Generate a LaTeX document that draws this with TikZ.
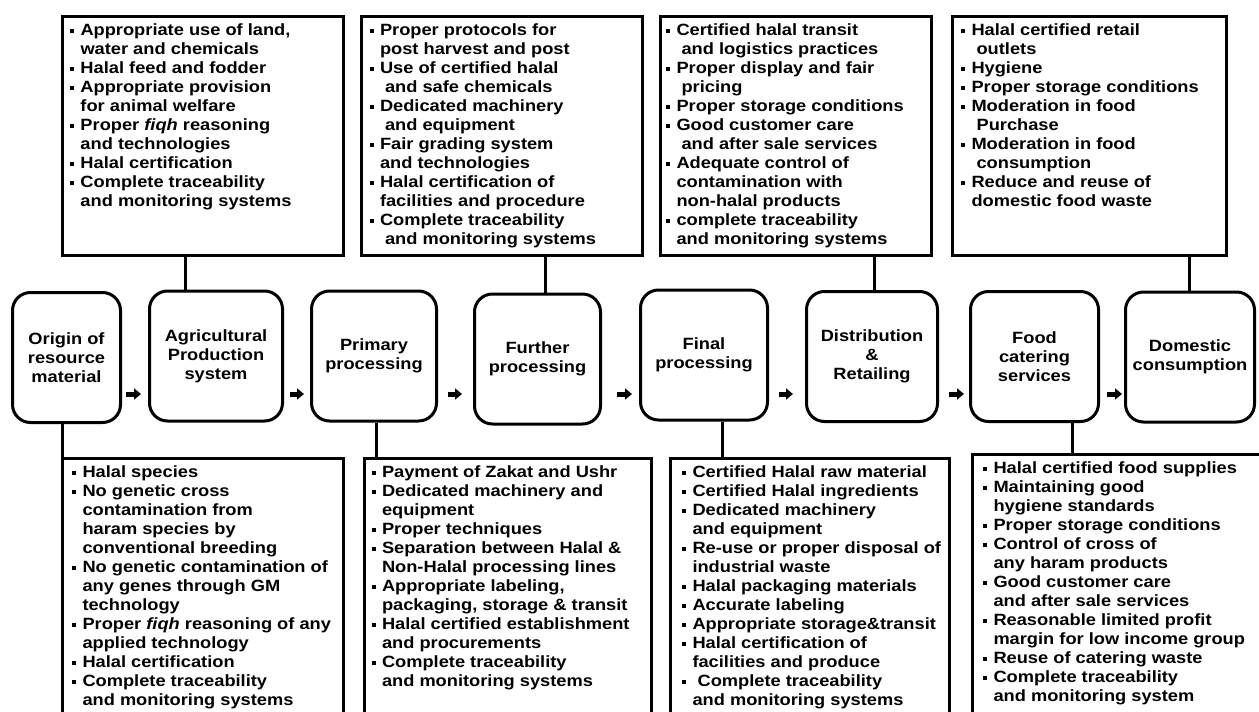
\documentclass[tikz,border=0pt]{standalone}
\usepackage{fontspec}
\setmainfont{Liberation Sans}[FakeStretch=1.12]
\usetikzlibrary{arrows.meta}

\newcommand{\itm}{\makebox[10.5pt][l]{\rule[3pt]{4pt}{4pt}}}
\newcommand{\ind}{\hspace*{10.5pt}}

\tikzset{
  stage/.style={draw, line width=3pt, rounded corners=18pt, inner sep=0pt, align=center, minimum height=130pt},
  notebox/.style={draw, line width=3pt, anchor=north west, inner ysep=6pt},
  link/.style={line width=3pt},
  flow/.style={line width=5pt, -{Triangle[length=7pt,width=11pt]}}
}

\begin{document}
\begin{tikzpicture}[x=1pt, y=-1pt, font=\fontsize{16.3pt}{19pt}\selectfont\bfseries]

\clip (0,0) rectangle (1259,712);

\node[notebox, inner xsep=7.5pt] (t1) at (61,15) {\parbox[c][227pt][t]{266pt}{\begin{tabular}{@{}l@{}}
\itm Appropriate use of land,\\
\ind water and chemicals\\
\itm Halal feed and fodder\\
\itm Appropriate provision\\
\ind for animal welfare\\
\itm Proper {\itshape fiqh} reasoning\\
\ind and technologies\\
\itm Halal certification\\
\itm Complete traceability\\
\ind and monitoring systems
\end{tabular}}};
\node[notebox, inner xsep=8pt] (t2) at (360,15) {\parbox[c][227pt][t]{265pt}{\begin{tabular}{@{}l@{}}
\itm Proper protocols for\\
\ind post harvest and post\\
\itm Use of certified halal\\
\ind\ and safe chemicals\\
\itm Dedicated machinery\\
\ind\ and equipment\\
\itm Fair grading system\\
\ind and technologies\\
\itm Halal certification of\\
\ind facilities and procedure\\
\itm Complete traceability\\
\ind\ and monitoring systems
\end{tabular}}};
\node[notebox, inner xsep=5.5pt] (t3) at (659,15) {\parbox[c][227pt][t]{260pt}{\begin{tabular}{@{}l@{}}
\itm Certified halal transit\\
\ind\ and logistics practices\\
\itm Proper display and fair\\
\ind\ pricing\\
\itm Proper storage conditions\\
\itm Good customer care\\
\ind\ and after sale services\\
\itm Adequate control of\\
\ind contamination with\\
\ind non-halal products\\
\itm complete traceability\\
\ind and monitoring systems
\end{tabular}}};
\node[notebox, inner xsep=8.5pt] (t4) at (951,15) {\parbox[c][227pt][t]{257pt}{\begin{tabular}{@{}l@{}}
\itm Halal certified retail\\
\ind\ outlets\\
\itm Hygiene\\
\itm Proper storage conditions\\
\itm Moderation in food\\
\ind\ Purchase\\
\itm Moderation in food\\
\ind\ consumption\\
\itm Reduce and reuse of\\
\ind domestic food waste
\end{tabular}}};

\node[stage, minimum width=108pt] (b1) at (66.5,357.5) {Origin of\\resource\\material};
\node[stage, minimum width=133pt] (b2) at (216,356) {Agricultural\\Production\\system};
\node[stage, minimum width=125pt] (b3) at (374,356) {Primary\\processing};
\node[stage, minimum width=126pt] (b4) at (537.5,359) {Further\\processing};
\node[stage, minimum width=127pt] (b5) at (704,355) {Final\\processing};
\node[stage, minimum width=131pt] (b6) at (872,356.5) {Distribution\\\&\\Retailing};
\node[stage, minimum width=128pt] (b7) at (1034.5,356.5) {Food\\catering\\services};
\node[stage, minimum width=129pt] (b8) at (1190,357) {Domestic\\consumption};

\node[notebox, inner xsep=9.5pt] (bb1) at (61,457) {\parbox[c][268pt][t]{262pt}{\begin{tabular}{@{}l@{}}
\itm Halal species\\
\itm No genetic cross\\
\ind contamination from\\
\ind haram species by\\
\ind conventional breeding\\
\itm No genetic contamination of\\
\ind any genes through GM\\
\ind technology\\
\itm Proper {\itshape fiqh} reasoning of any\\
\ind applied technology\\
\itm Halal certification\\
\itm Complete traceability\\
\ind and monitoring systems
\end{tabular}}};
\node[notebox, inner xsep=7pt] (bb2) at (363,457) {\parbox[c][268pt][t]{273pt}{\begin{tabular}{@{}l@{}}
\itm Payment of Zakat and Ushr\\
\itm Dedicated machinery and\\
\ind equipment\\
\itm Proper techniques\\
\itm Separation between Halal \&\\
\ind Non-Halal processing lines\\
\itm Appropriate labeling,\\
\ind packaging, storage \& transit\\
\itm Halal certified establishment\\
\ind and procurements\\
\itm Complete traceability\\
\ind and monitoring systems
\end{tabular}}};
\node[notebox, inner xsep=11.5pt] (bb3) at (669,457) {\parbox[c][268pt][t]{256pt}{\begin{tabular}{@{}l@{}}
\itm Certified Halal raw material\\
\itm Certified Halal ingredients\\
\itm Dedicated machinery\\
\ind and equipment\\
\itm Re-use or proper disposal of\\
\ind industrial waste\\
\itm Halal packaging materials\\
\itm Accurate labeling\\
\itm Appropriate storage\&transit\\
\itm Halal certification of\\
\ind facilities and produce\\
\itm\ Complete traceability\\
\ind and monitoring systems
\end{tabular}}};
\node[notebox, inner xsep=10.5pt] (bb4) at (971,453) {\parbox[c][272pt][t]{295pt}{\begin{tabular}{@{}l@{}}
\itm Halal certified food supplies\\
\itm Maintaining good\\
\ind hygiene standards\\
\itm Proper storage conditions\\
\itm Control of cross of\\
\ind any haram products\\
\itm Good customer care\\
\ind and after sale services\\
\itm Reasonable limited profit\\
\ind margin for low income group\\
\itm Reuse of catering waste\\
\itm Complete traceability\\
\ind and monitoring system
\end{tabular}}};

\draw[link] ([xshift=-30.5pt]b2.north) -- ([xshift=-30.5pt]b2.north |- t1.south);
\draw[link] ([xshift=7.5pt]b4.north) -- ([xshift=7.5pt]b4.north |- t2.south);
\draw[link] ([xshift=2pt]b6.north) -- ([xshift=2pt]b6.north |- t3.south);
\draw[link] ([xshift=-1pt]b8.north) -- ([xshift=-1pt]b8.north |- t4.south);
\draw[link] ([xshift=-4pt]b1.south) -- ([xshift=-4pt]b1.south |- bb1.north);
\draw[link] ([xshift=2pt]b3.south) -- ([xshift=2pt]b3.south |- bb2.north);
\draw[link] ([xshift=18pt]b5.south) -- ([xshift=18pt]b5.south |- bb3.north);
\draw[link] ([xshift=37.5pt]b7.south) -- ([xshift=37.5pt]b7.south |- bb4.north);

\coordinate (lane) at (0,394);
\draw[flow, shorten <=4pt, shorten >=7pt] (b1.east |- lane) -- (b2.west |- lane);
\draw[flow, shorten <=6pt, shorten >=6pt] (b2.east |- lane) -- (b3.west |- lane);
\draw[flow, shorten <=10pt, shorten >=11pt] (b3.east |- lane) -- (b4.west |- lane);
\draw[flow, shorten <=15pt, shorten >=7pt] (b4.east |- lane) -- (b5.west |- lane);
\draw[flow, shorten <=10pt, shorten >=12pt] (b5.east |- lane) -- (b6.west |- lane);
\draw[flow, shorten <=10pt, shorten >=5pt] (b6.east |- lane) -- (b7.west |- lane);
\draw[flow, shorten <=7pt, shorten >=2pt] (b7.east |- lane) -- (b8.west |- lane);

\end{tikzpicture}
\end{document}
